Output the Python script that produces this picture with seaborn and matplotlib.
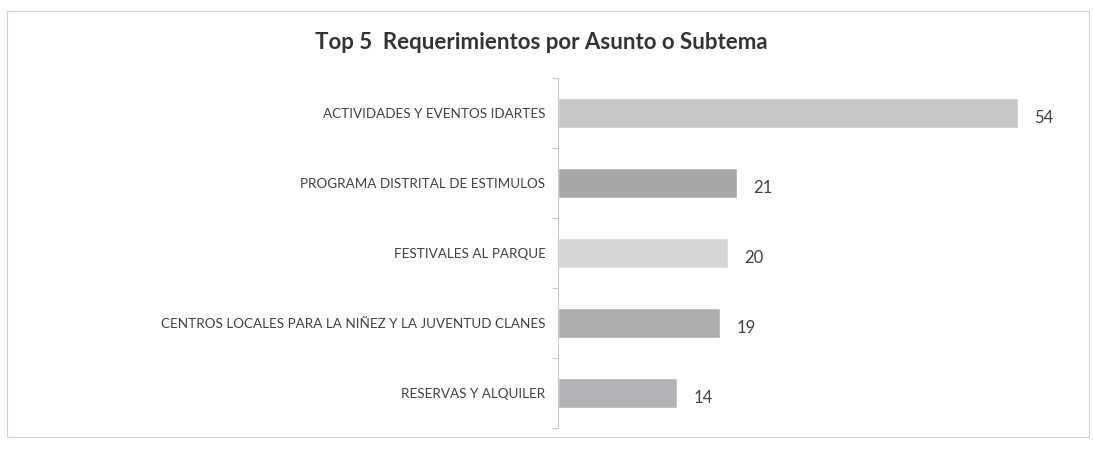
import matplotlib
matplotlib.use("Agg")
import matplotlib.pyplot as plt
import numpy as np
import pandas as pd
import seaborn as sns
from matplotlib.patches import Rectangle

sns.set_style("white")
plt.rcParams["font.family"] = ["Lato", "DejaVu Sans"]

categories = [
    "ACTIVIDADES Y EVENTOS IDARTES",
    "PROGRAMA DISTRITAL DE ESTIMULOS",
    "FESTIVALES AL PARQUE",
    "CENTROS LOCALES PARA LA NIÑEZ Y LA JUVENTUD CLANES",
    "RESERVAS Y ALQUILER",
]
values = [54, 21, 20, 19, 14]
bar_colors = ["#c6c6ca", "#a6a6aa", "#d4d4d8", "#adadb1", "#b3b3b7"]

df = pd.DataFrame({"Asunto": categories, "Cantidad": values})

fig = plt.figure(figsize=(10.93, 4.5), dpi=100)
fig.patches.append(
    Rectangle((0.006, 0.03), 0.99, 0.945, transform=fig.transFigure,
              fill=False, edgecolor="#d0d0d0", linewidth=0.8)
)
ax = fig.add_axes([0.5105, 0.049, 0.468, 0.778])

sns.barplot(data=df, y="Asunto", x="Cantidad", hue="Asunto",
            palette=bar_colors, width=0.42, legend=False, ax=ax)

for i, v in enumerate(values):
    ax.text(v + 1.9, i + 0.07, str(v), va="center", ha="left",
            fontsize=12, color="#404040")

ax.set_xlim(0, 60)
ax.set_ylim(4.5, -0.5)
ax.set_xlabel("")
ax.set_ylabel("")
ax.set_xticks([])
ax.tick_params(axis="y", length=0, labelsize=9.7, labelcolor="#404040", pad=9)
ax.set_yticks(np.arange(-0.5, 5, 1), minor=True)
ax.tick_params(axis="y", which="minor", left=True, length=4,
               color="#c8c8c8", width=0.8)
for side in ["top", "right", "bottom"]:
    ax.spines[side].set_visible(False)
ax.spines["left"].set_color("#c8c8c8")
ax.spines["left"].set_linewidth(0.8)

fig.text(0.495, 0.905, "Top 5  Requerimientos por Asunto o Subtema",
         ha="center", va="center", fontsize=16, fontweight="bold", color="#333333")

plt.savefig("out.png", dpi=100)
plt.close()
